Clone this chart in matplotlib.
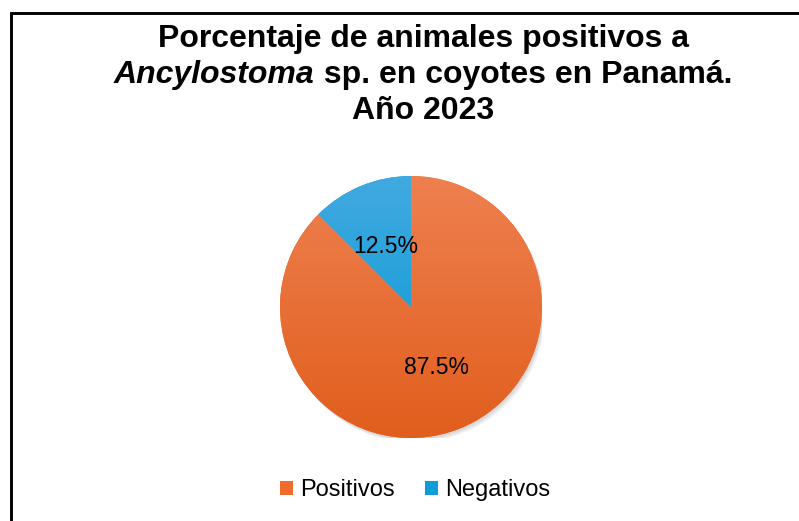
import numpy as np
import matplotlib
matplotlib.use("Agg")
from matplotlib import pyplot as plt
from matplotlib.patches import Rectangle, Patch, Circle
from matplotlib.colors import LinearSegmentedColormap

labels = ["Positivos", "Negativos"]
values = [87.5, 12.5]
colors = ["#F06C2A", "#0E9DD9"]
# top / bottom shades for the gradient fill of each slice
grad_colors = [("#EE804F", "#E15E1D"), ("#41AAE0", "#0096D4")]

title_line1 = "Porcentaje de animales positivos a"
title_italic = "Ancylostoma"
title_rest = " sp. en coyotes en Panamá."
title_line3 = "Año 2023"

plt.rcParams['font.family'] = ['Liberation Sans', 'DejaVu Sans']

W, H = 799, 521
fig = plt.figure(figsize=(W / 100, H / 100), dpi=100)
fig.patch.set_facecolor("white")

# outer frame (only left and top edges are visible in the crop)
fig.add_artist(Rectangle((10.5 / W, -0.5), 2, (1 - 13 / H) + 0.5,
                         transform=fig.transFigure, fill=False,
                         lw=2.1, ec="black"))

# pie axes
cx, cy, r = 411, 307, 131
ax = fig.add_axes([(cx - r) / W, (H - cy - r) / H, 2 * r / W, 2 * r / H])

# soft shadow
for i, a in enumerate([0.05, 0.05, 0.05]):
    ax.add_patch(Circle((0.01 + 0.008 * i, -0.015 - 0.01 * i), 1.0,
                        color="black", alpha=a, lw=0, zorder=0))

wedges, texts, autotexts = ax.pie(
    values, colors=colors, startangle=90, counterclock=False,
    autopct="%1.1f%%", pctdistance=0.5,
    textprops=dict(fontsize=16.5, color="black"),
    wedgeprops=dict(lw=0))

grad = np.linspace(0, 1, 256).reshape(-1, 1)
for w, (top, bot) in zip(wedges, grad_colors):
    cmap = LinearSegmentedColormap.from_list("g", [bot, top])
    im = ax.imshow(grad, extent=[-1, 1, -1, 1], origin="lower", cmap=cmap,
                   aspect="auto", zorder=1.5)
    im.set_clip_path(w)
for t in autotexts:
    t.set_zorder(3)

ax.set_xlim(-1, 1)
ax.set_ylim(-1, 1)
ax.set_aspect("equal")
ax.axis("off")

# title
tx = 423 / W
fs = 23
fig.text(tx, 1 - 47 / H, title_line1, ha="center", va="baseline",
         fontsize=fs, fontweight="bold")
fig.text(tx, 1 - 119 / H, title_line3, ha="center", va="baseline",
         fontsize=fs, fontweight="bold")
t_it = fig.text(0, 1 - 83 / H, title_italic, ha="left", va="baseline",
                fontsize=fs, fontweight="bold", style="italic")
t_rest = fig.text(0, 1 - 83 / H, title_rest, ha="left", va="baseline",
                  fontsize=fs, fontweight="bold")
renderer = fig.canvas.get_renderer()
w_it = t_it.get_window_extent(renderer).width / W
w_rest = t_rest.get_window_extent(renderer).width / W
x0 = tx - (w_it + w_rest) / 2
t_it.set_x(x0)
t_rest.set_x(x0 + w_it)

# legend
handles = [Patch(facecolor=c, edgecolor="none") for c in colors]
fig.legend(handles, labels, loc="center", bbox_to_anchor=(415 / W, 1 - 490 / H),
           ncol=2, frameon=False, fontsize=17, handlelength=0.55,
           handleheight=0.55, handletextpad=0.3, columnspacing=1.3)

fig.savefig("out.png", dpi=100, facecolor="white")
